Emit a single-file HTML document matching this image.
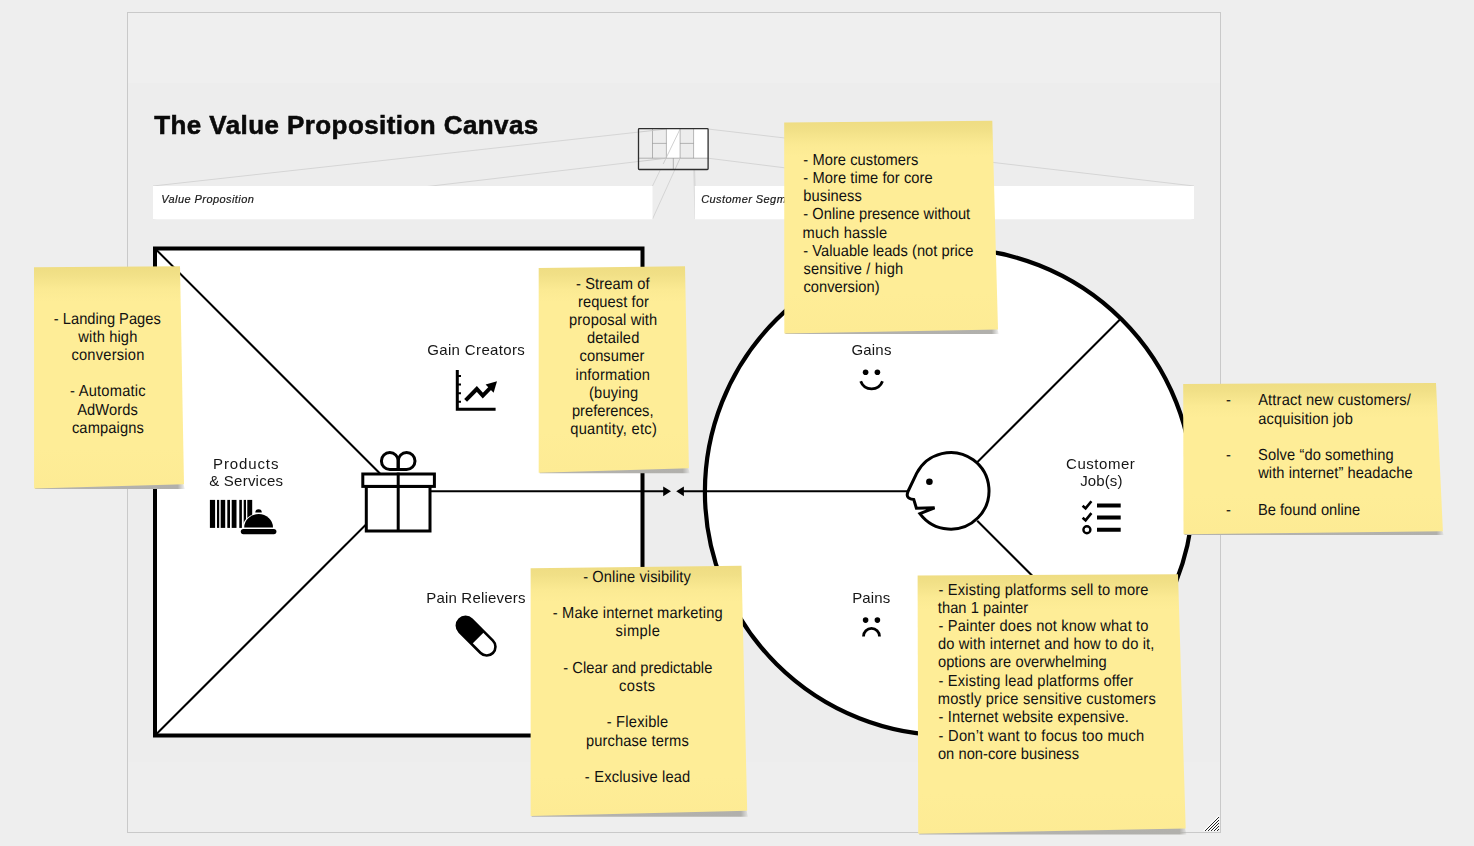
<!DOCTYPE html>
<html><head><meta charset="utf-8"><title>The Value Proposition Canvas</title>
<style>html,body{margin:0;padding:0;background:#eeeeee;}body{width:1474px;height:846px;overflow:hidden;}svg{display:block;font-family:"Liberation Sans",sans-serif;}</style>
</head><body>
<svg width="1474" height="846" viewBox="0 0 1474 846">
<defs>
<filter id="noop" x="0" y="0" width="100%" height="100%" filterUnits="userSpaceOnUse" primitiveUnits="userSpaceOnUse"><feOffset dx="0" dy="0"/></filter>
<linearGradient id="ng0" gradientUnits="userSpaceOnUse" x1="0" y1="267.2" x2="0" y2="488.4"><stop offset="0.0000" stop-color="#efdd83"/><stop offset="0.0316" stop-color="#f1e087"/><stop offset="0.0995" stop-color="#fbea93"/><stop offset="0.1537" stop-color="#feed97"/><stop offset="0.8192" stop-color="#feed97"/><stop offset="1.0000" stop-color="#fdeb94"/></linearGradient>
<linearGradient id="ng1" gradientUnits="userSpaceOnUse" x1="0" y1="268.0" x2="0" y2="472.8"><stop offset="0.0000" stop-color="#efdd83"/><stop offset="0.0342" stop-color="#f1e087"/><stop offset="0.1074" stop-color="#fbea93"/><stop offset="0.1660" stop-color="#feed97"/><stop offset="0.8047" stop-color="#feed97"/><stop offset="1.0000" stop-color="#fdeb94"/></linearGradient>
<linearGradient id="ng2" gradientUnits="userSpaceOnUse" x1="0" y1="122.6" x2="0" y2="333.5"><stop offset="0.0000" stop-color="#efdd83"/><stop offset="0.0332" stop-color="#f1e087"/><stop offset="0.1043" stop-color="#fbea93"/><stop offset="0.1612" stop-color="#feed97"/><stop offset="0.8103" stop-color="#feed97"/><stop offset="1.0000" stop-color="#fdeb94"/></linearGradient>
<linearGradient id="ng3" gradientUnits="userSpaceOnUse" x1="0" y1="383.9" x2="0" y2="534.3"><stop offset="0.0000" stop-color="#efdd83"/><stop offset="0.0465" stop-color="#f1e087"/><stop offset="0.1463" stop-color="#fbea93"/><stop offset="0.2261" stop-color="#feed97"/><stop offset="0.7340" stop-color="#feed97"/><stop offset="1.0000" stop-color="#fdeb94"/></linearGradient>
<linearGradient id="ng4" gradientUnits="userSpaceOnUse" x1="0" y1="568.2" x2="0" y2="816"><stop offset="0.0000" stop-color="#efdd83"/><stop offset="0.0282" stop-color="#f1e087"/><stop offset="0.0888" stop-color="#fbea93"/><stop offset="0.1372" stop-color="#feed97"/><stop offset="0.8386" stop-color="#feed97"/><stop offset="1.0000" stop-color="#fdeb94"/></linearGradient>
<linearGradient id="ng5" gradientUnits="userSpaceOnUse" x1="0" y1="575.5" x2="0" y2="833.8"><stop offset="0.0000" stop-color="#efdd83"/><stop offset="0.0271" stop-color="#f1e087"/><stop offset="0.0852" stop-color="#fbea93"/><stop offset="0.1316" stop-color="#feed97"/><stop offset="0.8451" stop-color="#feed97"/><stop offset="1.0000" stop-color="#fdeb94"/></linearGradient>
</defs>
<rect x="0" y="0" width="1474" height="846" fill="#eeeeee"/>
<rect x="127.5" y="12.5" width="1093" height="820" fill="#ededed" stroke="#c9c9c9" stroke-width="1"/>
<rect x="128" y="13" width="1092" height="70" fill="#efefef"/>
<rect x="128" y="762" width="1092" height="70" fill="#eeeeee"/>
<g stroke="#d5d5d5" stroke-width="1" fill="none">
<line x1="153" y1="186" x2="666.4" y2="129"/>
<line x1="153" y1="219" x2="666.4" y2="158.2"/>
<line x1="652.5" y1="186" x2="680.1" y2="129"/>
<line x1="652.5" y1="219" x2="680.1" y2="158.2"/>
<line x1="695" y1="186" x2="693.6" y2="129"/>
<line x1="695" y1="219" x2="693.6" y2="158.2"/>
<line x1="1194" y1="186" x2="708" y2="129"/>
<line x1="1194" y1="219" x2="708" y2="158.2"/>
</g>
<rect x="153" y="186" width="499.5" height="33.3" fill="#ffffff"/>
<rect x="694.8" y="186" width="499.2" height="33.3" fill="#ffffff"/>
<g id="mini">
<rect x="638.5" y="128.7" width="69.6" height="40.8" fill="#ededed"/>
<rect x="666.4" y="128.7" width="13.7" height="29.5" fill="#ffffff"/>
<rect x="693.6" y="128.7" width="14.4" height="29.5" fill="#ffffff"/>
<g stroke="#8a8a8a" stroke-width="0.6" fill="none">
<line x1="652.5" y1="129" x2="652.5" y2="158.2"/>
<line x1="666.4" y1="129" x2="666.4" y2="158.2"/>
<line x1="680.1" y1="129" x2="680.1" y2="158.2"/>
<line x1="693.6" y1="129" x2="693.6" y2="158.2"/>
<line x1="639" y1="158.2" x2="708" y2="158.2"/>
<line x1="652.5" y1="143.4" x2="666.4" y2="143.4"/>
<line x1="680.1" y1="143.4" x2="693.6" y2="143.4"/>
<line x1="673.3" y1="158.2" x2="673.3" y2="169"/>
</g>
<g stroke="#c4c4c4" stroke-width="0.8" fill="none">
<line x1="638.5" y1="132.1" x2="666.4" y2="129"/>
<line x1="638.5" y1="161.5" x2="666.4" y2="158.2"/>
<line x1="663.2" y1="164" x2="680.1" y2="129"/>
<line x1="675.2" y1="169" x2="680.1" y2="158.2"/>
</g>
<rect x="638.5" y="128.7" width="69.6" height="40.8" fill="none" stroke="#2e2e2e" stroke-width="1.3" rx="0.8"/>
</g>

<g filter="url(#noop)">
<text x="154.2" y="134.3" font-size="26" font-weight="bold" fill="#0a0a0a" stroke="#0a0a0a" stroke-width="0.55" letter-spacing="0.42">The Value Proposition Canvas</text>
<text x="161.2" y="202.7" font-size="11" font-style="italic" fill="#1a1a1a" stroke="#1a1a1a" stroke-width="0.2" letter-spacing="0.43">Value Proposition</text>
<text x="701.2" y="202.7" font-size="11" font-style="italic" fill="#1a1a1a" stroke="#1a1a1a" stroke-width="0.2" letter-spacing="0.43">Customer Segments</text>
</g>
<g id="shapes" stroke="#000" fill="none">
<rect x="155" y="248.5" width="487.5" height="487" fill="#ffffff" stroke-width="4"/>
<ellipse cx="949.1" cy="491.8" rx="244.2" ry="243.6" fill="#ffffff" stroke-width="4.2"/>
<g stroke-width="2">
<line x1="155" y1="248.5" x2="380" y2="473.5"/>
<line x1="155" y1="735.5" x2="365.5" y2="525"/>
<line x1="431" y1="491.3" x2="664" y2="491.3"/>
<line x1="683" y1="491.3" x2="908" y2="491.3"/>
<line x1="977.2" y1="462.3" x2="1120.2" y2="319.3"/>
<line x1="977.2" y1="520.7" x2="1120.2" y2="663.7"/>
</g>
<polygon points="663.2,486.4 671,491.3 663.2,496.2" fill="#000" stroke="none"/>
<polygon points="683.9,486.4 676.2,491.3 683.9,496.2" fill="#000" stroke="none"/>
</g>

<g id="icons">
<!-- gift -->
<g stroke="#000" stroke-width="3" fill="#ffffff" stroke-linejoin="miter">
<rect x="366.3" y="486.4" width="63.7" height="44.6" />
<rect x="362.8" y="474" width="71.6" height="12.4"/>
<line x1="398.2" y1="472.6" x2="398.2" y2="532"/>
<path d="M398.2 471 L398.2 461 A8.4 8.4 0 1 0 389.8 469.4 L398.2 469.4" fill="none"/>
<path d="M398.2 471 L398.2 461 A8.4 8.4 0 1 1 406.6 469.4 L398.2 469.4" fill="none"/>
</g>
<!-- face -->
<g>
<path d="M916.6 473.4 A38.3 38.3 0 1 1 919.9 513.6 L934.6 507.8 L916.4 508.3 L913.8 499.6 Q907 498.8 907.2 494.8 Q907.4 492.8 908.2 491 Z" fill="#ffffff" stroke="#000" stroke-width="3" stroke-linejoin="miter"/>
<circle cx="929.4" cy="481.8" r="3.3" fill="#000"/>
</g>
<!-- gain creators chart -->
<g fill="none" stroke="#000">
<path d="M457.3 370 L457.3 409.3 L495.6 409.3" stroke-width="3"/>
<path d="M457 376 H461 M457 384.6 H461 M457 393.2 H461 M457 401.8 H461" stroke-width="2"/>
<path d="M465.6 400.4 L476.8 389 L482.8 395.6 L490.6 387.6" stroke-width="4"/>
<polygon points="497,381.2 485.6,384.6 493.6,392.8" fill="#000" stroke="none"/>
</g>
<!-- products & services: barcode + cloche -->
<g fill="#000">
<rect x="209.9" y="499.9" width="5.2" height="28"/>
<rect x="217" y="499.9" width="2.2" height="28"/>
<rect x="220.7" y="499.9" width="4.5" height="28"/>
<rect x="227.3" y="499.9" width="2.7" height="28"/>
<rect x="231.7" y="499.9" width="4.8" height="28"/>
<rect x="239.3" y="499.9" width="2.6" height="28"/>
<rect x="243.7" y="499.9" width="2.3" height="28"/>
<rect x="247.3" y="499.9" width="4.9" height="28"/>
<path d="M242.2 529 A16.4 15.6 0 0 1 275 529 Z" fill="#ffffff"/>
<path d="M244.2 527.5 A14.4 13.4 0 0 1 273 527.5 Z"/>
<path d="M255.3 512.6 A3.25 3.4 0 0 1 261.8 512.6 Z"/>
<rect x="240.8" y="529" width="35.6" height="5.2" rx="2.6"/>
</g>
<!-- pain relievers pill -->
<g transform="translate(476.15 636.2) rotate(45)">
<rect x="-23.7" y="-8.7" width="47.4" height="17.4" rx="8.7" fill="#ffffff" stroke="#000" stroke-width="2.6"/>
<path d="M2.6 -8.7 H-15 A8.7 8.7 0 0 0 -15 8.7 H2.6 Z" fill="#000"/>
</g>
<!-- gains smiley -->
<g>
<circle cx="865.6" cy="372.3" r="2.8" fill="#000"/>
<circle cx="877.4" cy="372.3" r="2.8" fill="#000"/>
<path d="M860.7 381.3 A11.65 11.65 0 0 0 882.5 381.3" fill="none" stroke="#000" stroke-width="2.8"/>
</g>
<!-- pains frown -->
<g>
<circle cx="865.6" cy="620.1" r="2.8" fill="#000"/>
<circle cx="877.4" cy="620.1" r="2.8" fill="#000"/>
<path d="M863.5 636.4 A8 8 0 0 1 879.5 636.4" fill="none" stroke="#000" stroke-width="2.8"/>
</g>
<!-- customer jobs checklist -->
<g fill="none" stroke="#000">
<path d="M1097 505.6 H1120.7 M1097 517.4 H1120.7 M1097 529.8 H1120.7" stroke-width="4"/>
<path d="M1082.6 505.8 L1085.6 508.4 L1091.4 501.2" stroke-width="2.6"/>
<path d="M1082.6 517.7 L1085.6 520.3 L1091.4 513.1" stroke-width="2.6"/>
<circle cx="1086.9" cy="529.8" r="3.5" stroke-width="2.4"/>
</g>
</g>

<g id="labels" font-size="15" fill="#161616" filter="url(#noop)">
<text x="427.20" y="355.2" textLength="97.67">Gain Creators</text>
<text x="213.00" y="469.0" textLength="65.40">Products</text>
<text x="209.20" y="486.0" textLength="73.79">&amp; Services</text>
<text x="426.20" y="602.8" textLength="99.21">Pain Relievers</text>
<text x="851.40" y="355.2" textLength="39.99">Gains</text>
<text x="852.20" y="602.8" textLength="38.12">Pains</text>
<text x="1066.00" y="469.0" textLength="68.82">Customer</text>
<text x="1080.20" y="486.0" textLength="42.28">Job(s)</text>
</g>
<linearGradient id="sg0" gradientUnits="userSpaceOnUse" x1="34.1" y1="0" x2="184.8" y2="0"><stop offset="0" stop-color="#b4b3af"/><stop offset="0.9533" stop-color="#b1b0ac"/><stop offset="1" stop-color="#b1b0ac" stop-opacity="0.15"/></linearGradient>
<polygon points="35.1,486.4 183,482.3 184.8,488.9 35.1,488.9" fill="url(#sg0)"/>
<polygon points="34,267.2 180,266.3 184,484.3 34.1,488.4" fill="url(#ng0)"/>
<g font-size="14.67" fill="#111111" text-rendering="geometricPrecision" transform="scale(1,1.09)">
<text x="53.85" y="297.25" textLength="106.86">- Landing Pages</text>
<text x="78.34" y="313.76" textLength="58.98">with high</text>
<text x="71.38" y="330.28" textLength="72.99">conversion</text>
<text x="70.05" y="363.49" textLength="75.62">- Automatic</text>
<text x="77.16" y="380.55" textLength="60.57">AdWords</text>
<text x="71.91" y="397.25" textLength="72.00">campaigns</text>
</g>
<linearGradient id="sg1" gradientUnits="userSpaceOnUse" x1="538.7" y1="0" x2="689.6999999999999" y2="0"><stop offset="0" stop-color="#b4b3af"/><stop offset="0.9534" stop-color="#b1b0ac"/><stop offset="1" stop-color="#b1b0ac" stop-opacity="0.15"/></linearGradient>
<polygon points="539.7,470.8 687.9,466.2 689.6999999999999,473.3 539.7,473.3" fill="url(#sg1)"/>
<polygon points="538.7,268.0 685,266.2 688.9,468.2 538.7,472.8" fill="url(#ng1)"/>
<g font-size="14.67" fill="#111111" text-rendering="geometricPrecision" transform="scale(1,1.09)">
<text x="576.06" y="265.14" textLength="73.57">- Stream of</text>
<text x="577.94" y="281.74" textLength="70.88">request for</text>
<text x="569.03" y="298.35" textLength="88.22">proposal with</text>
<text x="586.90" y="314.95" textLength="52.41">detailed</text>
<text x="579.57" y="331.65" textLength="64.73">consumer</text>
<text x="575.46" y="348.44" textLength="74.54">information</text>
<text x="589.06" y="364.86" textLength="49.05">(buying</text>
<text x="571.95" y="381.56" textLength="81.57">preferences,</text>
<text x="570.19" y="398.26" textLength="86.60">quantity, etc)</text>
</g>
<linearGradient id="sg2" gradientUnits="userSpaceOnUse" x1="784.3" y1="0" x2="998.8" y2="0"><stop offset="0" stop-color="#b4b3af"/><stop offset="0.9672" stop-color="#b1b0ac"/><stop offset="1" stop-color="#b1b0ac" stop-opacity="0.15"/></linearGradient>
<polygon points="785.3,331.5 997,327.5 998.8,334.1 785.3,334.1" fill="url(#sg2)"/>
<polygon points="784.2,122.6 992.3,120.8 998,329.5 784.3,333.5" fill="url(#ng2)"/>
<g font-size="14.67" fill="#111111" text-rendering="geometricPrecision" transform="scale(1,1.09)">
<text x="803.35" y="151.38" textLength="114.96">- More customers</text>
<text x="803.35" y="167.89" textLength="129.34">- More time for core</text>
<text x="803.24" y="184.40" textLength="58.48">business</text>
<text x="803.35" y="200.92" textLength="166.80">- Online presence without</text>
<text x="802.60" y="218.07" textLength="84.56">much hassle</text>
<text x="803.35" y="234.86" textLength="170.01">- Valuable leads (not price</text>
<text x="803.42" y="251.38" textLength="99.71">sensitive / high</text>
<text x="803.40" y="267.89" textLength="76.12">conversion)</text>
</g>
<linearGradient id="sg3" gradientUnits="userSpaceOnUse" x1="1183.5" y1="0" x2="1443.7" y2="0"><stop offset="0" stop-color="#b4b3af"/><stop offset="0.9730" stop-color="#b1b0ac"/><stop offset="1" stop-color="#b1b0ac" stop-opacity="0.15"/></linearGradient>
<polygon points="1184.5,532.3 1441.9,529.3 1443.7,534.9 1184.5,534.9" fill="url(#sg3)"/>
<polygon points="1183.2,383.9 1436,383 1442.9,531.3 1183.5,534.3" fill="url(#ng3)"/>
<g font-size="14.67" fill="#111111" text-rendering="geometricPrecision" transform="scale(1,1.09)">
<text x="1258.17" y="371.56" textLength="152.69">Attract new customers/</text>
<text x="1258.19" y="388.72" textLength="94.61">acquisition job</text>
<text x="1258.08" y="421.83" textLength="135.48">Solve “do something</text>
<text x="1258.14" y="438.53" textLength="154.47">with internet” headache</text>
<text x="1257.88" y="472.20" textLength="102.30">Be found online</text>
<text x="1225.95" y="371.56" textLength="5.50">-</text>
<text x="1225.95" y="421.83" textLength="5.51">-</text>
<text x="1225.95" y="472.20" textLength="5.51">-</text>
</g>
<linearGradient id="sg4" gradientUnits="userSpaceOnUse" x1="530.6" y1="0" x2="748.0" y2="0"><stop offset="0" stop-color="#b4b3af"/><stop offset="0.9677" stop-color="#b1b0ac"/><stop offset="1" stop-color="#b1b0ac" stop-opacity="0.15"/></linearGradient>
<polygon points="531.6,814 746.2,808.8 748.0,816.7 531.6,816.7" fill="url(#sg4)"/>
<polygon points="530.6,568.2 741.5,565.8 747.2,810.8 530.6,816" fill="url(#ng4)"/>
<g font-size="14.67" fill="#111111" text-rendering="geometricPrecision" transform="scale(1,1.09)">
<text x="583.17" y="533.94" textLength="107.61">- Online visibility</text>
<text x="552.85" y="567.34" textLength="169.78">- Make internet marketing</text>
<text x="615.58" y="583.94" textLength="44.32">simple</text>
<text x="563.35" y="617.34" textLength="148.96">- Clear and predictable</text>
<text x="618.91" y="634.04" textLength="36.22">costs</text>
<text x="606.65" y="667.34" textLength="61.58">- Flexible</text>
<text x="585.95" y="684.22" textLength="102.78">purchase terms</text>
<text x="584.85" y="717.43" textLength="105.41">- Exclusive lead</text>
</g>
<linearGradient id="sg5" gradientUnits="userSpaceOnUse" x1="918.2" y1="0" x2="1186.5" y2="0"><stop offset="0" stop-color="#b4b3af"/><stop offset="0.9738" stop-color="#b1b0ac"/><stop offset="1" stop-color="#b1b0ac" stop-opacity="0.15"/></linearGradient>
<polygon points="919.2,831.8 1184.7,826.4 1186.5,834.4 919.2,834.4" fill="url(#sg5)"/>
<polygon points="917.6,575.5 1178,574.3 1185.7,828.4 918.2,833.8" fill="url(#ng5)"/>
<g font-size="14.67" fill="#111111" text-rendering="geometricPrecision" transform="scale(1,1.09)">
<text x="938.56" y="545.87" textLength="209.95">- Existing platforms sell to more</text>
<text x="937.86" y="562.39" textLength="90.19">than 1 painter</text>
<text x="938.55" y="578.90" textLength="209.92">- Painter does not know what to</text>
<text x="937.90" y="595.50" textLength="216.53">do with internet and how to do it,</text>
<text x="937.91" y="612.02" textLength="168.78">options are overwhelming</text>
<text x="938.55" y="629.36" textLength="194.58">- Existing lead platforms offer</text>
<text x="937.74" y="645.96" textLength="217.98">mostly price sensitive customers</text>
<text x="938.55" y="662.84" textLength="190.25">- Internet website expensive.</text>
<text x="938.55" y="679.72" textLength="205.58">- Don’t want to focus too much</text>
<text x="937.91" y="696.15" textLength="141.09">on non-core business</text>
</g>
<g id="handle" fill="none" stroke-linecap="butt">
<path d="M1203.6 831 L1219 815.6 M1206.6 831 L1219 818.6 M1209.6 831 L1219 821.6 M1212.6 831 L1219 824.6 M1215.6 831 L1219 827.6" stroke="#ffffff" stroke-width="1.15"/>
<path d="M1205 831 L1219 817 M1208 831 L1219 820 M1211 831 L1219 823 M1214 831 L1219 826 M1217 831 L1219 829" stroke="#000000" stroke-width="0.85"/>
</g>

</svg>
</body></html>
